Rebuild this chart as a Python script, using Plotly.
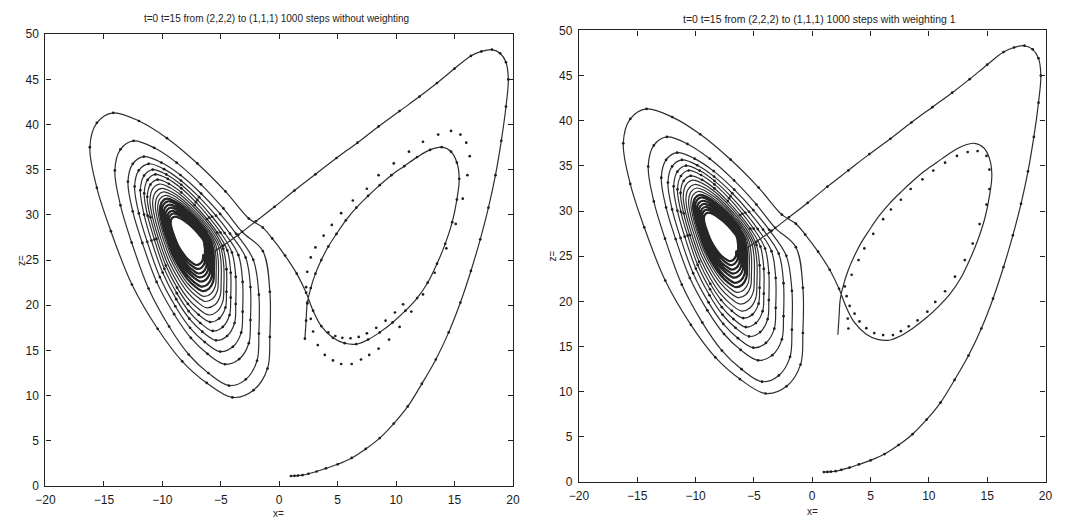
import plotly.graph_objects as go

# ---- data: (x, z) pairs ----
titles = ["t=0 t=15 from (2,2,2) to (1,1,1) 1000 steps without weighting",
          "t=0 t=15 from (2,2,2) to (1,1,1) 1000 steps with weighting 1"]
x_ticks = [-20, -15, -10, -5, 0, 5, 10, 15, 20]
z_ticks = [0, 5, 10, 15, 20, 25, 30, 35, 40, 45, 50]

rise_pts = [(1.0, 1.1), (1.3, 1.12), (1.6, 1.15), (2.0, 1.2), (2.5, 1.35), (3.2, 1.6), (4.0, 1.95),
            (5.0, 2.4), (6.2, 3.1), (7.4, 4.1), (8.6, 5.3), (9.8, 6.9), (11.0, 8.8), (12.2, 11.3),
            (13.4, 14.0), (14.5, 17.0), (15.5, 20.3), (16.4, 23.8), (17.2, 27.3), (17.9, 30.8),
            (18.5, 34.4), (19.0, 38.2), (19.4, 42.0), (19.6, 45.0), (19.4, 46.9), (18.9, 47.9),
            (18.2, 48.3), (17.3, 48.1)]

dive_pts = [(16.4, 47.6), (15.0, 46.2), (13.5, 44.6), (12.0, 43.1), (10.3, 41.5), (8.5, 39.8),
            (6.7, 38.0), (4.9, 36.3), (3.1, 34.5), (1.3, 32.7), (-0.4, 30.9), (-2.0, 29.3),
            (-3.5, 27.8), (-4.8, 26.6), (-5.8, 25.8)]

# tight inner turns around the hole (innermost first)
core_pts = [
    (-6.51, 25.6), (-6.55, 25.01), (-6.77, 24.6), (-7.09, 24.46), (-7.49, 24.74), (-7.86, 25.14), (-8.24, 25.76), (-8.64, 26.59), (-8.96, 27.59), (-9.18, 28.41), (-9.29, 29.17), (-9.18, 29.63), (-8.93, 29.82), (-8.53, 29.67), (-8.1, 29.34), (-7.63, 28.87), (-7.2, 28.34), (-6.84, 27.8),
    (-6.48, 27.18), (-6.36, 26.3), (-6.36, 25.33), (-6.4, 24.64), (-6.64, 24.18), (-7.0, 24.02), (-7.44, 24.33), (-7.86, 24.8), (-8.28, 25.5), (-8.72, 26.46), (-9.08, 27.61), (-9.32, 28.54), (-9.44, 29.42), (-9.32, 29.95), (-9.04, 30.16), (-8.6, 29.99), (-8.12, 29.62), (-7.6, 29.07), (-7.12, 28.47), (-6.72, 27.88),
    (-6.34, 27.09), (-6.21, 26.1), (-6.21, 25.0), (-6.25, 24.23), (-6.51, 23.7), (-6.91, 23.52), (-7.39, 23.88), (-7.86, 24.4), (-8.32, 25.2), (-8.8, 26.27), (-9.2, 27.57), (-9.46, 28.63), (-9.59, 29.62), (-9.46, 30.21), (-9.15, 30.45), (-8.67, 30.26), (-8.14, 29.84), (-7.57, 29.22), (-7.04, 28.54), (-6.6, 27.88),
    (-6.2, 27.05), (-6.05, 25.95), (-6.05, 24.72), (-6.1, 23.86), (-6.39, 23.28), (-6.82, 23.08), (-7.35, 23.47), (-7.85, 24.06), (-8.36, 24.94), (-8.88, 26.14), (-9.32, 27.59), (-9.6, 28.76), (-9.75, 29.87), (-9.6, 30.53), (-9.27, 30.8), (-8.74, 30.58), (-8.16, 30.11), (-7.54, 29.43), (-6.96, 28.67), (-6.48, 27.93),
    (-6.05, 27.01), (-5.9, 25.79), (-5.9, 24.44), (-5.95, 23.5), (-6.26, 22.85), (-6.73, 22.63), (-7.3, 23.07), (-7.85, 23.71), (-8.39, 24.69), (-8.97, 26.01), (-9.43, 27.6), (-9.75, 28.9), (-9.9, 30.11), (-9.75, 30.84), (-9.38, 31.14), (-8.81, 30.9), (-8.19, 30.38), (-7.51, 29.63), (-6.89, 28.79), (-6.37, 27.98),
    (-5.91, 26.92), (-5.74, 25.57), (-5.74, 24.07), (-5.8, 23.02), (-6.14, 22.3), (-6.64, 22.06), (-7.26, 22.54), (-7.84, 23.26), (-8.43, 24.34), (-9.05, 25.81), (-9.55, 27.58), (-9.89, 29.02), (-10.06, 30.37), (-9.89, 31.18), (-9.5, 31.51), (-8.88, 31.24), (-8.21, 30.67), (-7.48, 29.83), (-6.81, 28.9), (-6.25, 28.0),
    (-5.77, 26.83), (-5.59, 25.37), (-5.59, 23.74), (-5.65, 22.61), (-6.01, 21.83), (-6.55, 21.57), (-7.21, 22.09), (-7.84, 22.87), (-8.47, 24.04), (-9.13, 25.63), (-9.67, 27.55), (-10.03, 29.11), (-10.21, 30.57), (-10.03, 31.45), (-9.61, 31.8), (-8.95, 31.51), (-8.23, 30.89), (-7.45, 29.98), (-6.73, 28.98), (-6.13, 28.0),
]

# middle turns (dense, unmarked in the picture)
mid_pts = [
    (-5.59, 26.74), (-5.4, 25.14), (-5.4, 23.37), (-5.46, 22.13), (-5.85, 21.28), (-6.44, 20.99), (-7.15, 21.56), (-7.84, 22.41), (-8.52, 23.69), (-9.23, 25.43), (-9.82, 27.52), (-10.21, 29.23), (-10.4, 30.83), (-10.21, 31.78), (-9.75, 32.17), (-9.04, 31.85), (-8.26, 31.18), (-7.41, 30.19), (-6.63, 29.09), (-5.98, 28.02),
    (-5.42, 26.65), (-5.21, 24.92), (-5.21, 23.0), (-5.28, 21.65), (-5.7, 20.73), (-6.33, 20.42), (-7.1, 21.03), (-7.83, 21.96), (-8.57, 23.34), (-9.34, 25.23), (-9.97, 27.5), (-10.39, 29.35), (-10.6, 31.08), (-10.39, 32.12), (-9.9, 32.55), (-9.13, 32.2), (-8.29, 31.47), (-7.38, 30.39), (-6.54, 29.2), (-5.84, 28.04),
    (-5.2, 26.52), (-4.97, 24.63), (-4.97, 22.53), (-5.05, 21.06), (-5.51, 20.05), (-6.19, 19.71), (-7.03, 20.39), (-7.82, 21.39), (-8.62, 22.91), (-9.46, 24.96), (-10.14, 27.44), (-10.6, 29.46), (-10.83, 31.35), (-10.6, 32.48), (-10.07, 32.94), (-9.23, 32.57), (-8.32, 31.77), (-7.33, 30.59), (-6.42, 29.29), (-5.66, 28.03),
    (-4.99, 26.38), (-4.74, 24.31), (-4.74, 22.01), (-4.83, 20.4), (-5.32, 19.3), (-6.06, 18.93), (-6.96, 19.67), (-7.82, 20.77), (-8.68, 22.43), (-9.58, 24.68), (-10.32, 27.4), (-10.81, 29.6), (-11.06, 31.67), (-10.81, 32.92), (-10.24, 33.42), (-9.34, 33.01), (-8.35, 32.13), (-7.29, 30.85), (-6.3, 29.42), (-5.48, 28.04),
]

# widening turns out to the outermost loop
spiral_pts = [
    (-4.78, 26.25), (-4.51, 24.0), (-4.51, 21.5), (-4.6, 19.75), (-5.13, 18.55), (-5.92, 18.15), (-6.89, 18.95), (-7.81, 20.15), (-8.74, 21.95), (-9.7, 24.4), (-10.5, 27.35), (-11.02, 29.75), (-11.29, 32.0), (-11.02, 33.35), (-10.41, 33.9), (-9.44, 33.45), (-8.38, 32.5), (-7.24, 31.1), (-6.18, 29.55), (-5.3, 28.05),
    (-4.44, 26.07), (-4.15, 23.59), (-4.15, 20.85), (-4.25, 18.92), (-4.83, 17.6), (-5.69, 17.16), (-6.75, 18.04), (-7.75, 19.36), (-8.76, 21.34), (-9.82, 24.03), (-10.68, 27.28), (-11.26, 29.92), (-11.55, 32.4), (-11.26, 33.88), (-10.59, 34.49), (-9.53, 33.99), (-8.38, 32.95), (-7.13, 31.41), (-5.98, 29.7), (-5.02, 28.05),
    (-4.04, 25.84), (-3.72, 23.14), (-3.72, 20.14), (-3.82, 18.04), (-4.46, 16.6), (-5.41, 16.12), (-6.58, 17.08), (-7.69, 18.52), (-8.81, 20.68), (-9.97, 23.62), (-10.93, 27.16), (-11.56, 30.04), (-11.88, 32.74), (-11.56, 34.36), (-10.82, 35.02), (-9.66, 34.48), (-8.38, 33.34), (-7.0, 31.66), (-5.73, 29.8), (-4.67, 28.0),
    (-3.49, 25.56), (-3.13, 22.59), (-3.13, 19.29), (-3.25, 16.98), (-3.97, 15.4), (-5.05, 14.87), (-6.37, 15.93), (-7.63, 17.51), (-8.89, 19.89), (-10.21, 23.12), (-11.29, 27.02), (-12.01, 30.18), (-12.37, 33.15), (-12.01, 34.94), (-11.17, 35.66), (-9.85, 35.07), (-8.41, 33.81), (-6.85, 31.97), (-5.41, 29.92), (-4.21, 27.94),
    (-2.87, 25.29), (-2.46, 22.01), (-2.46, 18.36), (-2.6, 15.8), (-3.42, 14.05), (-4.64, 13.47), (-6.14, 14.63), (-7.56, 16.39), (-8.99, 19.01), (-10.49, 22.59), (-11.71, 26.9), (-12.53, 30.4), (-12.94, 33.69), (-12.53, 35.66), (-11.58, 36.46), (-10.08, 35.8), (-8.45, 34.42), (-6.68, 32.37), (-5.05, 30.11), (-3.69, 27.92),
    (-2.22, 25.04), (-1.74, 21.17), (-1.74, 16.87), (-1.9, 13.86), (-2.86, 11.8), (-4.3, 11.11), (-6.06, 12.49), (-7.74, 14.55), (-9.42, 17.65), (-11.18, 21.86), (-12.62, 26.94), (-13.58, 31.06), (-14.06, 34.93), (-13.58, 37.26), (-12.46, 38.2), (-10.7, 37.43), (-8.78, 35.79), (-6.7, 33.39), (-4.78, 30.72), (-3.18, 28.14),
    (-1.4, 26.0), (-0.8, 21.5), (-0.8, 16.5), (-1.0, 13.0), (-2.2, 10.6), (-4.0, 9.8), (-6.2, 11.4), (-8.3, 13.8), (-10.4, 17.4), (-12.6, 22.3),
    (-14.4, 28.2), (-15.6, 33.0), (-16.2, 37.5), (-15.6, 40.2), (-14.2, 41.3), (-12.0, 40.4), (-9.6, 38.5), (-7.0, 35.7), (-4.6, 32.6), (-2.6, 29.6),
]

exit_pts = [(-1.4, 28.6), (-0.6, 27.4), (0.5, 25.5), (1.5, 23.5), (2.3, 21.4)]

wing_pts = [(2.9, 19.4), (3.6, 17.7), (4.6, 16.4), (5.6, 15.8), (6.6, 15.7), (7.6, 16.2), (8.6, 17.0),
            (9.7, 18.1), (10.8, 19.4), (11.8, 20.8), (12.7, 22.5), (13.5, 24.6), (14.2, 26.8), (14.8, 29.2),
            (15.2, 31.7), (15.4, 34.0), (15.2, 35.8), (14.7, 37.0), (13.9, 37.5), (12.9, 37.2), (11.8, 36.4),
            (10.7, 35.4), (9.6, 34.4), (8.6, 33.3), (7.6, 32.1), (6.6, 30.8), (5.7, 29.4), (4.9, 27.9),
            (4.2, 26.5), (3.6, 25.0), (3.1, 23.5), (2.7, 21.9), (2.4, 20.2), (2.3, 18.3), (2.2, 16.3)]

dots_left_pts = [(2.4, 20.3), (2.3, 22.0), (2.4, 23.7), (2.7, 25.3), (3.1, 26.4), (3.8, 27.7), (4.5, 28.9),
                 (5.3, 30.2), (6.3, 31.6), (7.5, 32.9), (8.5, 34.4), (9.8, 35.7), (11.1, 37.0), (12.3, 38.1),
                 (13.6, 38.9), (14.7, 39.3), (15.5, 38.9), (16.0, 38.0), (16.3, 36.5), (16.1, 34.4), (15.7, 31.8),
                 (15.1, 29.0), (14.3, 26.3), (13.3, 23.6), (12.3, 21.2), (11.3, 19.3), (10.3, 17.6), (9.4, 16.2),
                 (8.5, 15.2), (7.7, 14.5), (7.0, 14.0), (6.2, 13.5), (5.3, 13.5), (4.6, 13.9), (3.9, 14.5),
                 (3.3, 15.6), (2.9, 17.1), (2.7, 18.5),
                 (4.2, 17.0), (4.8, 16.6), (5.4, 16.4), (6.1, 16.35), (6.8, 16.5), (7.5, 16.9), (8.3, 17.5),
                 (9.1, 18.3), (9.9, 19.2), (10.6, 20.1)]

dots_right_pts = [(2.79, 21.66), (2.95, 20.58), (3.21, 19.5), (3.05, 18.1), (3.1, 17.0), (3.38, 22.95),
                  (3.97, 24.57), (4.47, 25.86), (5.23, 27.48), (6.08, 29.1), (6.75, 30.17), (7.6, 31.25),
                  (8.44, 32.44), (9.45, 33.51), (10.38, 34.48), (11.39, 35.35), (12.41, 36.1), (13.33, 36.53),
                  (14.18, 36.64), (14.94, 36.1), (15.19, 34.59), (15.19, 32.44), (14.94, 30.71), (14.35, 28.56),
                  (13.76, 26.4), (13.08, 24.57), (12.24, 22.74), (11.39, 21.12), (10.55, 19.94), (9.87, 18.86),
                  (9.03, 17.89), (8.27, 17.24), (7.6, 16.7), (6.92, 16.27), (6.08, 16.27), (5.32, 16.49),
                  (4.64, 17.03), (4.05, 17.78), (3.63, 18.64)]

# ---- build traces ----
def xs(pts):
    return [p[0] for p in pts]

def zs(pts):
    return [p[1] for p in pts]

path = rise_pts + dive_pts + core_pts + mid_pts + spiral_pts + exit_pts + wing_pts
shared_marks = rise_pts + dive_pts + spiral_pts + exit_pts

LINE = "#2e2e2e"
DOT = "#1e1e1e"
FONT = "Liberation Sans, Arial, sans-serif"

fig = go.Figure()
for i, (xa, ya) in enumerate([("x", "y"), ("x2", "y2")]):
    fig.add_trace(go.Scatter(x=xs(path), y=zs(path), xaxis=xa, yaxis=ya, mode="lines",
                             line=dict(color=LINE, width=1.2, shape="spline", smoothing=1.0),
                             showlegend=False, hoverinfo="skip"))
    fig.add_trace(go.Scatter(x=xs(core_pts), y=zs(core_pts), xaxis=xa, yaxis=ya, mode="lines",
                             line=dict(color="#262626", width=2.2, shape="spline", smoothing=1.0),
                             showlegend=False, hoverinfo="skip"))
    marks = shared_marks + (wing_pts + dots_left_pts if i == 0 else dots_right_pts)
    fig.add_trace(go.Scatter(x=xs(marks), y=zs(marks), xaxis=xa, yaxis=ya, mode="markers",
                             marker=dict(color=DOT, size=2.7),
                             showlegend=False, hoverinfo="skip"))

def xaxis(domain, anchor):
    return dict(domain=domain, anchor=anchor, range=[-20, 20], tickmode="array", tickvals=x_ticks,
                ticks="inside", ticklen=5, tickcolor="#222", showline=True, linecolor="#222",
                linewidth=1.3, mirror="ticks", showgrid=False, zeroline=False, ticklabelstandoff=2,
                tickfont=dict(family=FONT, size=12, color="#1a1a1a"))

def yaxis(domain, anchor):
    return dict(domain=domain, anchor=anchor, range=[0, 50], tickmode="array", tickvals=z_ticks,
                ticks="inside", ticklen=5, tickcolor="#222", showline=True, linecolor="#222",
                linewidth=1.3, mirror="ticks", showgrid=False, zeroline=False, ticklabelstandoff=3,
                tickfont=dict(family=FONT, size=12, color="#1a1a1a"))

W, H = 1084, 528
fig.update_layout(
    width=W, height=H, margin=dict(l=0, r=0, t=0, b=0),
    paper_bgcolor="white", plot_bgcolor="white",
    xaxis=xaxis([36 / W, 511 / W], "y"), yaxis=yaxis([1 - 492 / H, 1 - 28 / H], "x"),
    xaxis2=xaxis([578 / W, 1052 / W], "y2"), yaxis2=yaxis([1 - 488 / H, 1 - 24 / H], "x2"),
)

ann = [
    dict(text=titles[0], x=271 / W, y=1 - 12 / H, size=10, angle=0),
    dict(text=titles[1], x=822 / W, y=1 - 12 / H, size=10.5, angle=0),
    dict(text="x=", x=273 / W, y=1 - 520 / H, size=10, angle=0),
    dict(text="x=", x=815 / W, y=1 - 518 / H, size=10, angle=0),
    dict(text="z=", x=11 / W, y=1 - 260 / H, size=10, angle=-90),
    dict(text="z=", x=551 / W, y=1 - 256 / H, size=10, angle=-90),
]
for a in ann:
    fig.add_annotation(text=a["text"], x=a["x"], y=a["y"], xref="paper", yref="paper",
                       showarrow=False, textangle=a["angle"], xanchor="center", yanchor="middle",
                       font=dict(family=FONT, size=a["size"], color="#222"))

fig.write_html("out.html")
